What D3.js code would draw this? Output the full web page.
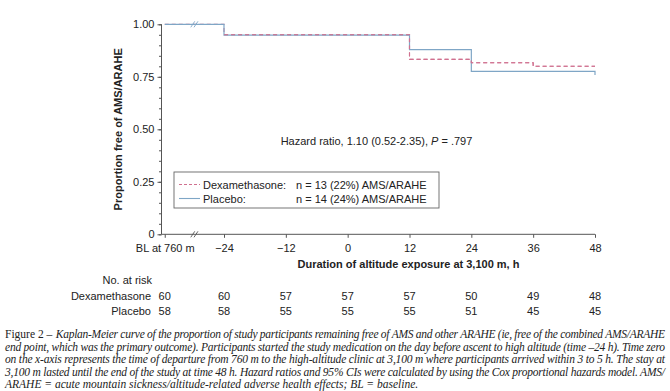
<!DOCTYPE html>
<html>
<head>
<meta charset="utf-8">
<script src="https://cdn.jsdelivr.net/npm/d3@7"></script>
<style>
  html, body { margin: 0; padding: 0; background: #fff; }
  svg { display: block; }
  .sans { font-family: "Liberation Sans", Arial, Helvetica, sans-serif; fill: #222; }
  .serif { font-family: "Liberation Serif", "Times New Roman", serif; fill: #222; }
</style>
</head>
<body>
<svg id="chart" width="670" height="391"></svg>
<script>
// ==== Data ====
const riskTimes = ["BL", -24, -12, 0, 12, 24, 36, 48];
const riskDexa = [60, 60, 57, 57, 57, 50, 49, 48];
const riskPlacebo = [58, 58, 55, 55, 55, 51, 45, 45];

// survival steps
const dexaTimes = ["BL", -24, 12, 24, 36, 48];
const dexaSurv = [1.00, 0.95, 0.833, 0.817, 0.80, 0.80];
const placeboTimes = ["BL", -24, 12, 24, 48];
const placeboSurv = [1.00, 0.948, 0.879, 0.776, 0.759];

const yTicks = [0, 0.25, 0.5, 0.75, 1.0];
const tickLabels = ["BL at 760 m", "\u221224", "\u221212", "0", "12", "24", "36", "48"];

const legendRows = [
  { name: "Dexamethasone:", note: "n = 13 (22%) AMS/ARAHE", key: "dexa" },
  { name: "Placebo:", note: "n = 14 (24%) AMS/ARAHE", key: "placebo" }
];

const captionLines = [
  "Kaplan-Meier curve of the proportion of study participants remaining free of AMS and other ARAHE (ie, free of the combined AMS/ARAHE",
  "end point, which was the primary outcome). Participants started the study medication on the day before ascent to high altitude (time \u201324 h). Time zero",
  "on the x-axis represents the time of departure from 760 m to the high-altitude clinic at 3,100 m where participants arrived within 3 to 5 h. The stay at",
  "3,100 m lasted until the end of the study at time 48 h. Hazard ratios and 95% CIs were calculated by using the Cox proportional hazards model. AMS/",
  "ARAHE = acute mountain sickness/altitude-related adverse health effects; BL = baseline."
];

// ==== Setup ====
const svg = d3.select("#chart");
const colors = { dexa: "#d0708f", placebo: "#7fa6c6" };
const axisColor = "#555";

const BL_HOUR = -35.5;          // where the baseline column sits on the broken axis
const x = d3.scaleLinear().domain([-24, 48]).range([224, 595]);
const y = d3.scaleLinear().domain([0, 1]).range([234.3, 24.3]);
const xPos = t => x(t === "BL" ? BL_HOUR : t);
const axisX0 = 161.5;
const breakX = (xPos("BL") + x(-24)) / 2;

// ==== Axes ====
const gy = svg.append("g").attr("transform", `translate(${axisX0},0)`);
gy.call(d3.axisLeft(y).tickValues(d3.range(0, 1.0001, 0.05)).tickSize(2.5).tickFormat(""));
gy.call(g => g.selectAll(".tick line").attr("stroke", axisColor));
const gyMaj = svg.append("g").attr("transform", `translate(${axisX0},0)`);
gyMaj.call(d3.axisLeft(y).tickValues(yTicks).tickSize(4).tickPadding(3)
  .tickFormat(d => d === 0 ? "0" : d3.format(".2f")(d)));
gyMaj.selectAll("path.domain, .tick line").attr("stroke", axisColor);
gyMaj.selectAll("text").attr("class", "sans").attr("font-size", 11);
gy.select("path.domain").remove();
gyMaj.select("path.domain").attr("d", `M0,${y(0)}V${y(1)}`);

const gx = svg.append("g").attr("transform", `translate(0,${y(0)})`);
gx.call(d3.axisBottom(x).tickValues(riskTimes.map(t => t === "BL" ? BL_HOUR : t))
  .tickSize(3.5).tickPadding(6.5).tickFormat((d, i) => tickLabels[i]));
gx.select("path.domain").attr("d", `M${axisX0},0H${x(48)}`).attr("stroke", axisColor);
gx.selectAll(".tick line").attr("stroke", axisColor);
gx.selectAll("text").attr("class", "sans").attr("font-size", 11);

// axis break marks
function breakMark(cx, cy, color) {
  [-1.6, 1.6].forEach(dx => {
    svg.append("line")
      .attr("x1", cx + dx - 2).attr("y1", cy + 3)
      .attr("x2", cx + dx + 2).attr("y2", cy - 3)
      .attr("stroke", color).attr("stroke-width", 0.9);
  });
}
breakMark(breakX, y(0), axisColor);

// ==== Curves ====
const line = d3.line().curve(d3.curveStepAfter);
const dexaPts = dexaTimes.map((t, i) => [xPos(t), y(dexaSurv[i])]);
const placeboPts = placeboTimes.map((t, i) => [xPos(t), y(placeboSurv[i])]);

svg.append("path").attr("d", line(dexaPts))
  .attr("fill", "none").attr("stroke", colors.dexa)
  .attr("stroke-width", 1.1).attr("stroke-dasharray", "4,3");
svg.append("path").attr("d", line(placeboPts))
  .attr("fill", "none").attr("stroke", colors.placebo).attr("stroke-width", 1.2);
// redraw the dexamethasone dashes on top past the first drop
svg.append("path").attr("d", line(dexaPts.slice(1)))
  .attr("fill", "none").attr("stroke", colors.dexa)
  .attr("stroke-width", 1.1).attr("stroke-dasharray", "4,3");
breakMark(breakX, y(1), colors.placebo);

// ==== Labels ====
svg.append("text").attr("class", "sans")
  .attr("transform", `translate(122,${(y(0) + y(1)) / 2}) rotate(-90)`)
  .attr("text-anchor", "middle").attr("font-size", 11).attr("font-weight", "bold")
  .text("Proportion free of AMS/ARAHE");

svg.append("text").attr("class", "sans")
  .attr("x", (x(-24) + x(48)) / 2 - 1).attr("y", 268)
  .attr("text-anchor", "middle").attr("font-size", 11).attr("font-weight", "bold")
  .text("Duration of altitude exposure at 3,100 m, h");

const hr = svg.append("text").attr("class", "sans")
  .attr("x", 376.5).attr("y", 145).attr("text-anchor", "middle").attr("font-size", 11);
hr.append("tspan").text("Hazard ratio, 1.10 (0.52-2.35), ");
hr.append("tspan").attr("font-style", "italic").text("P");
hr.append("tspan").text(" = .797");

// ==== Legend ====
const lg = svg.append("g");
lg.append("rect").attr("x", 174).attr("y", 172).attr("width", 265).attr("height", 36)
  .attr("fill", "#fff").attr("stroke", "#666").attr("stroke-width", 0.9);
legendRows.forEach((r, i) => {
  const ly = 184.5 + i * 14;
  lg.append("line").attr("x1", 179).attr("x2", 200).attr("y1", ly).attr("y2", ly)
    .attr("stroke", colors[r.key]).attr("stroke-width", 1.1)
    .attr("stroke-dasharray", r.key === "dexa" ? "3,2" : null);
  lg.append("text").attr("class", "sans").attr("x", 203).attr("y", ly + 4)
    .attr("font-size", 11).text(r.name);
  lg.append("text").attr("class", "sans").attr("x", 296).attr("y", ly + 4)
    .attr("font-size", 11).text(r.note);
});

// ==== Risk table ====
svg.append("text").attr("class", "sans").attr("x", 152).attr("y", 284)
  .attr("text-anchor", "end").attr("font-size", 11).text("No. at risk");
[["Dexamethasone", riskDexa, 299.5], ["Placebo", riskPlacebo, 315]].forEach(([name, vals, ry]) => {
  svg.append("text").attr("class", "sans").attr("x", 151).attr("y", ry)
    .attr("text-anchor", "end").attr("font-size", 11).text(name);
  svg.append("g").selectAll("text").data(vals).join("text")
    .attr("class", "sans")
    .attr("x", (d, i) => xPos(riskTimes[i]))
    .attr("y", ry).attr("text-anchor", "middle").attr("font-size", 11)
    .text(d => d);
});

// ==== Caption ====
const capX0 = 5, capX1 = 665, capY0 = 338, capDy = 12.6;
const fig = svg.append("text").attr("class", "serif")
  .attr("x", capX0).attr("y", capY0).attr("font-size", 11.5).text("Figure 2 \u2013");
const figW = fig.node().getComputedTextLength() + 3.5;
captionLines.forEach((t, i) => {
  const sx = i === 0 ? capX0 + figW : capX0;
  const el = svg.append("text").attr("class", "serif")
    .attr("x", sx).attr("y", capY0 + i * capDy)
    .attr("font-size", 11.5).attr("font-style", "italic").text(t);
  if (i < captionLines.length - 1) {
    el.attr("textLength", capX1 - sx).attr("lengthAdjust", "spacing");
  }
});
</script>
</body>
</html>
